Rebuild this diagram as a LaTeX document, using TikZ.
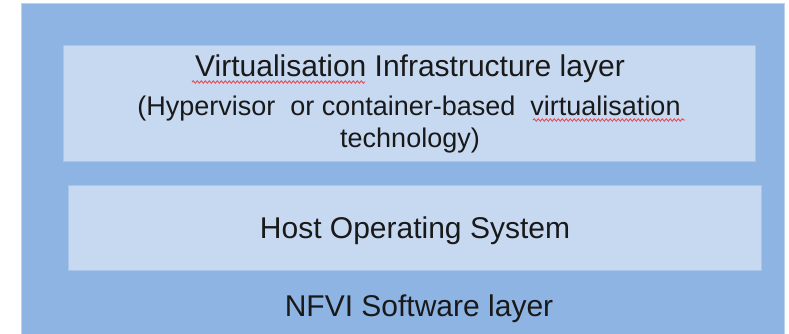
\documentclass[tikz,border=0pt]{standalone}
\usepackage{fontspec}
\setmainfont{Liberation Sans}
\usetikzlibrary{decorations.pathmorphing}
\definecolor{outerblue}{HTML}{8EB4E3}
\definecolor{innerblue}{HTML}{C6D9F1}
\definecolor{edgeblue}{HTML}{A9C5EA}
\definecolor{outeredge}{HTML}{BCD2EE}
\definecolor{squig}{HTML}{E8404A}
\begin{document}
\begin{tikzpicture}[x=1pt,y=-1pt,
  layerbox/.style={draw=edgeblue, line width=0.8pt, fill=innerblue},
  bigtxt/.style={inner sep=0pt, anchor=base, text=black!90, font=\fontsize{30}{36}\selectfont},
  smalltxt/.style={inner sep=0pt, anchor=base, text=black!90, font=\fontsize{27}{32}\selectfont},
  spell/.style={draw=squig, line width=0.8pt, decorate, decoration={snake, amplitude=1.2pt, segment length=4pt}}]
\useasboundingbox (0,0) rectangle (789,334);
\fill[white] (0,0) rectangle (789,334);
\draw[fill=outerblue, draw=outeredge, line width=0.8pt] (21,3) rectangle (784,340);
\draw[layerbox] (63,45) rectangle (755,161);
\draw[layerbox] (68,185) rectangle (761,270);
\node[bigtxt] (l1) at (410,77) {Virtualisation Infrastructure layer};
\node[smalltxt] (l2) at (409,116) {(Hypervisor\ \ or container-based\ \ virtualisation};
\node[smalltxt] (l3) at (410,147) {technology)};
\node[bigtxt] (host) at (415,238) {Host Operating System};
\node[bigtxt] (nfvi) at (419,316) {NFVI Software layer};
\draw[spell] (192,82) -- (365,82);
\draw[spell] (533,120) -- (685,120);
\end{tikzpicture}
\end{document}
